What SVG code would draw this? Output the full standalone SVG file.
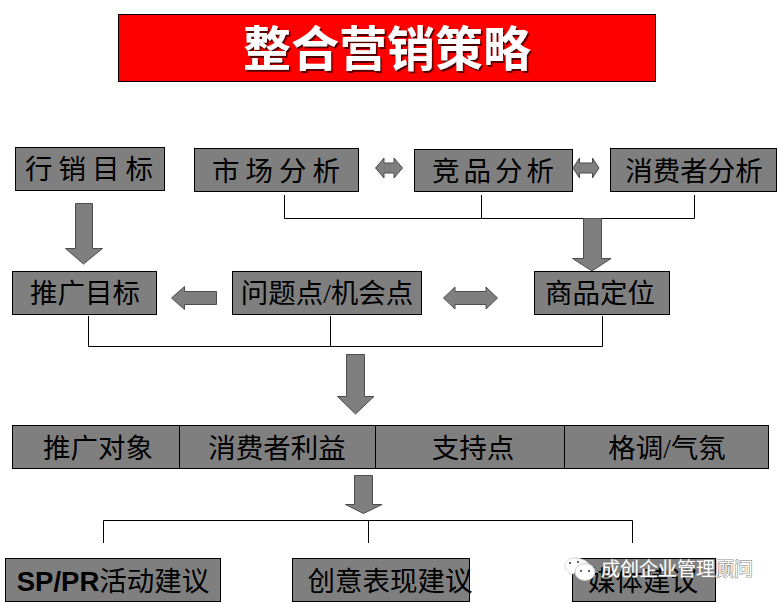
<svg xmlns="http://www.w3.org/2000/svg" width="778" height="603" viewBox="0 0 778 603">
<defs><filter id="sh" x="-5%" y="-10%" width="110%" height="125%"><feDropShadow dx="1.500" dy="2" stdDeviation="0.600" flood-color="#400000" flood-opacity="0.900"/></filter></defs>
<style>
.box{fill:#7f7f7f;stroke:#000;stroke-width:1}
.arr{fill:#7f7f7f;stroke:#4d4d4d;stroke-width:1}
.ln{fill:none;stroke:#000;stroke-width:1}
text{font-family:"Liberation Serif","Noto Sans CJK SC",serif;font-size:27.500px;fill:#000;text-anchor:middle}
.lat{font-family:"Liberation Sans","Noto Sans CJK SC",sans-serif;font-weight:bold}
.title{font-family:"Noto Sans CJK SC",sans-serif;font-size:48px;font-weight:bold;fill:#fff;filter:url(#sh)}
.wm{font-family:"Noto Sans CJK SC",sans-serif;font-size:19px;fill:#fff;text-anchor:start;stroke:#8c8c8c;stroke-width:1.200px;paint-order:stroke}
.eye{fill:#333}
</style>
<rect width="778" height="603" fill="#fff"/>
<g id="title"><rect x="118.500" y="14.500" width="537" height="67" fill="#f00" stroke="#000"/><text class="title" x="387" y="66">整合营销策略</text></g>
<g id="connectors">
<path class="ln" d="M284.500 195V218.500H694.500V195M481.500 195V218.500"/>
<path class="ln" d="M88.500 316V346.500H602.500V316M330.500 316V346.500"/>
<path class="ln" d="M103.500 543V520.500H632.500V543M368.500 520V543"/>
<path class="arr" d="M75.500 203.500H92.500V248.500H102.500L83.500 264L65.500 248.500H75.500Z"/>
<path class="arr" d="M583.500 218.500H601.500V258.500H611L592 271L572.500 258.500H583.500Z"/>
<path class="arr" d="M346.500 354.500H364.500V396.500H374L355.500 414L337.500 396.500H346.500Z"/>
<path class="arr" d="M354.500 475.500H372.500V504.500H382L363.500 513.500L345.500 504.500H354.500Z"/>
<path class="arr" d="M216.500 291.500V304.500H184.500V309.500L171.500 298L184.500 286.500V291.500Z"/>
<path class="arr" d="M443.500 298L455 287V291.500H486V287L497.500 298L486 309V304.500H455V309Z"/>
<path class="arr" d="M375.500 168L384 158V163H394V158L402.500 168L394 178V173H384V178Z"/>
<path class="arr" d="M573 168L579.500 158V163H592.500V158L599 168L592.500 178V173H579.500V178Z"/>
</g>
<g id="n-xingxiao"><rect class="box" x="15.500" y="147.500" width="149" height="43"/><text x="89" y="179" textLength="128">行销目标</text></g>
<g id="n-shichang"><rect class="box" x="194.500" y="148.500" width="164" height="43"/><text x="276" y="181" textLength="128">市场分析</text></g>
<g id="n-jingpin"><rect class="box" x="414.500" y="149.500" width="158" height="42"/><text x="493" y="181" textLength="122">竞品分析</text></g>
<g id="n-xiaofeizhe"><rect class="box" x="610.500" y="148.500" width="166" height="43"/><text x="694" y="181">消费者分析</text></g>
<g id="n-tuiguang"><rect class="box" x="12.500" y="271.500" width="144" height="43"/><text x="85" y="303">推广目标</text></g>
<g id="n-wenti"><rect class="box" x="232.500" y="271.500" width="189" height="43"/><text x="327" y="303">问题点/机会点</text></g>
<g id="n-shangpin"><rect class="box" x="534.500" y="271.500" width="135" height="43"/><text x="600" y="303">商品定位</text></g>
<g id="n-row"><rect class="box" x="12.500" y="425.500" width="756" height="43"/><path class="ln" d="M179.500 425.500V468.500M375.500 425.500V468.500M564.500 425.500V468.500"/>
<text x="98" y="458">推广对象</text><text x="277" y="458">消费者利益</text><text x="473" y="458">支持点</text><text x="667" y="458">格调/气氛</text></g>
<g id="n-sp"><rect class="box" x="5.500" y="558.500" width="215" height="43"/><text x="113" y="591"><tspan class="lat">SP/PR</tspan>活动建议</text></g>
<g id="n-chuangyi"><rect class="box" x="292.500" y="558.500" width="177" height="43"/><text x="390" y="591">创意表现建议</text></g>
<g id="n-meiti"><rect class="box" x="572.500" y="558.500" width="143" height="43"/><text x="643" y="591">媒体建议</text></g>
<g id="watermark"><path d="M574 558C568 558 565 562 565 566C565 569 567 571 569 572L570 575L574 573L590 566C588 561 581 558 574 558Z" fill="#fff" stroke="#ddd"/><ellipse cx="585" cy="572" rx="10" ry="8.500" fill="#fff" stroke="#ccc"/><circle class="eye" cx="581" cy="571" r="1"/><circle class="eye" cx="589" cy="571" r="1"/><circle class="eye" cx="570" cy="563" r="1"/><circle class="eye" cx="578" cy="562" r="1"/><text class="wm" x="601" y="576">成创企业管理顾问</text></g>
</svg>
